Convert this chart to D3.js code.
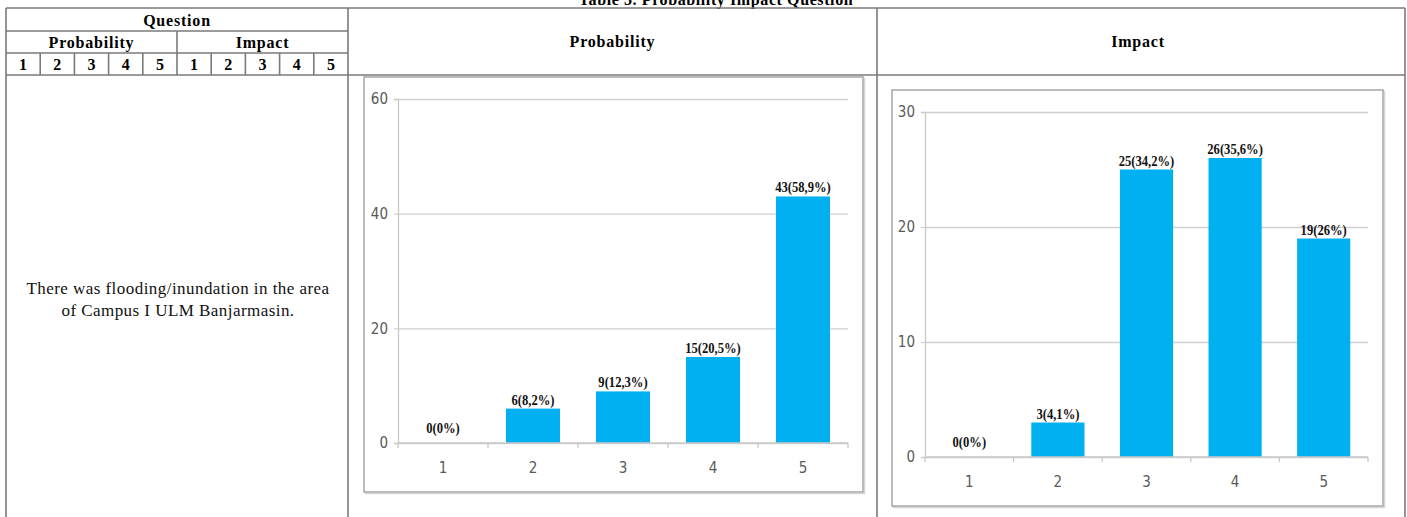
<!DOCTYPE html>
<html>
<head>
<meta charset="utf-8">
<script src="https://d3js.org/d3.v7.min.js"></script>
<style>
    body { margin: 0; background: #fff; }
    .hdr { font-family: "Liberation Serif", "Times New Roman", serif; font-weight: bold; font-size: 16px; fill: #000; }
    .body-text { font-family: "Liberation Serif", "Times New Roman", serif; font-size: 17px; fill: #111; }
    .tick text { font-family: "DejaVu Sans Condensed", "Liberation Sans Narrow", sans-serif; font-size: 15px; fill: #595959; }
    .val { font-family: "Liberation Serif", "Times New Roman", serif; font-weight: bold; font-size: 15px; fill: #111; }
</style>
</head>
<body>
<script>
// data
var categories = ["1", "2", "3", "4", "5"];
var probabilityValues = [0, 6, 9, 15, 43];
var probabilityLabels = ["0(0%)", "6(8,2%)", "9(12,3%)", "15(20,5%)", "43(58,9%)"];
var probabilityTicks = [0, 20, 40, 60];
var impactValues = [0, 3, 25, 26, 19];
var impactLabels = ["0(0%)", "3(4,1%)", "25(34,2%)", "26(35,6%)", "19(26%)"];
var impactTicks = [0, 10, 20, 30];
var scaleHeader = ["1", "2", "3", "4", "5"];
var questionText = ["There was flooding/inundation in the area", "of Campus I ULM Banjarmasin."];

var width = 1407, height = 517;
var svg = d3.select("body").append("svg")
    .attr("width", width)
    .attr("height", height);

var lineColor = "#7a7a7a";

function hline(x1, x2, y) {
    svg.append("line").attr("x1", x1).attr("x2", x2).attr("y1", y).attr("y2", y)
        .attr("stroke", lineColor).attr("stroke-width", 1.6);
}
function vline(x, y1, y2) {
    svg.append("line").attr("x1", x).attr("x2", x).attr("y1", y1).attr("y2", y2)
        .attr("stroke", lineColor).attr("stroke-width", 1.6);
}

// table caption (only its lower part shows, as in the page scan)
svg.append("text").attr("class", "hdr")
    .attr("x", 716).attr("y", 5)
    .attr("text-anchor", "middle")
    .style("letter-spacing", "0.6px")
    .text("Table 3. Probability Impact Question");

// table grid
var tLeft = 6, tRight = 1405, tTop = 8, colQ = 348, colP = 877;
var row1 = 31, row2 = 53, row3 = 75;
hline(tLeft, tRight, tTop);
hline(tLeft, colQ, row1);
hline(tLeft, colQ, row2);
hline(tLeft, tRight, row3);
vline(tLeft, tTop, height);
vline(colQ, tTop, height);
vline(colP, tTop, height);
vline(tRight, tTop, height);

var qMid = (tLeft + colQ) / 2;
var subX = d3.scaleBand().domain(d3.range(10)).range([tLeft, colQ]);
vline(subX(5), row1, row3);
d3.range(1, 10).forEach(function (i) { if (i !== 5) vline(subX(i), row2, row3); });

svg.append("text").attr("class", "hdr").attr("x", qMid).attr("y", 26)
    .attr("text-anchor", "middle").style("letter-spacing", "0.8px").text("Question");
svg.append("text").attr("class", "hdr").attr("x", (tLeft + subX(5)) / 2).attr("y", 48)
    .attr("text-anchor", "middle").style("letter-spacing", "0.8px").text("Probability");
svg.append("text").attr("class", "hdr").attr("x", (subX(5) + colQ) / 2).attr("y", 48)
    .attr("text-anchor", "middle").style("letter-spacing", "0.8px").text("Impact");

svg.selectAll("text.num")
    .data(scaleHeader.concat(scaleHeader))
    .enter().append("text")
    .attr("class", "hdr num")
    .attr("x", function (d, i) { return subX(i) + subX.bandwidth() / 2; })
    .attr("y", 70)
    .attr("text-anchor", "middle")
    .text(function (d) { return d; });

svg.append("text").attr("class", "hdr").attr("x", (colQ + colP) / 2).attr("y", 47)
    .attr("text-anchor", "middle").style("letter-spacing", "0.8px").text("Probability");
svg.append("text").attr("class", "hdr").attr("x", (colP + tRight) / 2 - 3).attr("y", 47)
    .attr("text-anchor", "middle").style("letter-spacing", "0.8px").text("Impact");

svg.selectAll("text.q")
    .data(questionText)
    .enter().append("text")
    .attr("class", "body-text q")
    .attr("x", qMid + 1)
    .attr("y", function (d, i) { return 294 + i * 22; })
    .attr("text-anchor", "middle")
    .style("letter-spacing", "0.45px")
    .text(function (d) { return d; });

// bar charts
function drawChart(cfg) {
    var g = svg.append("g");

    g.append("rect")
        .attr("x", cfg.frame[0] + 1.5).attr("y", cfg.frame[1] + 1.5)
        .attr("width", cfg.frame[2]).attr("height", cfg.frame[3])
        .attr("fill", "none").attr("stroke", "#d6d6d6").attr("stroke-width", 1.5);
    g.append("rect")
        .attr("x", cfg.frame[0]).attr("y", cfg.frame[1])
        .attr("width", cfg.frame[2]).attr("height", cfg.frame[3])
        .attr("fill", "#fff").attr("stroke", "#a6a6a6").attr("stroke-width", 1.5);

    var x = d3.scaleBand()
        .domain(categories)
        .range([cfg.left, cfg.right])
        .paddingInner(0.4)
        .paddingOuter(0.2);

    var y = d3.scaleLinear()
        .domain([0, d3.max(cfg.ticks)])
        .range([cfg.bottom, cfg.top]);

    // gridlines
    g.append("g")
        .attr("transform", "translate(" + cfg.left + ",0)")
        .call(d3.axisLeft(y).tickValues(cfg.ticks).tickSize(-(cfg.right - cfg.left)).tickFormat(""))
        .call(function (s) {
            s.select(".domain").remove();
            s.selectAll("line").attr("stroke", "#d0d0d0").attr("stroke-width", 1.3);
        });

    // y axis
    g.append("g")
        .attr("transform", "translate(" + cfg.left + ",0)")
        .call(d3.axisLeft(y).tickValues(cfg.ticks).tickSize(4).tickPadding(6))
        .call(function (s) {
            s.select(".domain").attr("stroke", "#c8c8c8").attr("stroke-width", 1.3);
            s.selectAll(".tick line").attr("stroke", "#c8c8c8");
        });

    // bars
    g.selectAll("rect.bar")
        .data(cfg.values)
        .enter().append("rect")
        .attr("class", "bar")
        .attr("x", function (d, i) { return x(categories[i]); })
        .attr("y", function (d) { return y(d); })
        .attr("width", x.bandwidth())
        .attr("height", function (d) { return cfg.bottom - y(d); })
        .attr("fill", "#00b0f0");

    // x axis
    var boundaries = d3.range(categories.length + 1).map(function (i) { return cfg.left + i * x.step(); });
    g.append("line")
        .attr("x1", cfg.left).attr("x2", cfg.right)
        .attr("y1", cfg.bottom).attr("y2", cfg.bottom)
        .attr("stroke", "#c8c8c8").attr("stroke-width", 1.3);
    g.selectAll("line.xt")
        .data(boundaries)
        .enter().append("line")
        .attr("class", "xt")
        .attr("x1", function (d) { return d; }).attr("x2", function (d) { return d; })
        .attr("y1", cfg.bottom).attr("y2", cfg.bottom + 5)
        .attr("stroke", "#c8c8c8").attr("stroke-width", 1.3);

    g.append("g")
        .attr("transform", "translate(0," + cfg.bottom + ")")
        .call(d3.axisBottom(x).tickSize(0).tickPadding(19))
        .call(function (s) { s.select(".domain").remove(); });

    // value labels (narrowed like the condensed serif of the source)
    g.selectAll("text.val")
        .data(cfg.labels)
        .enter().append("text")
        .attr("class", "val")
        .attr("transform", function (d, i) {
            var lx = x(categories[i]) + x.bandwidth() / 2;
            var ly = y(cfg.values[i]) - (cfg.values[i] === 0 ? 10 : 4);
            return "translate(" + lx + "," + ly + ") scale(0.84,1)";
        })
        .attr("text-anchor", "middle")
        .text(function (d) { return d; });
}

drawChart({
    values: probabilityValues, labels: probabilityLabels, ticks: probabilityTicks,
    frame: [364, 77, 499, 415],
    left: 398, right: 848, top: 99, bottom: 443
});

drawChart({
    values: impactValues, labels: impactLabels, ticks: impactTicks,
    frame: [892, 90, 491, 416],
    left: 925, right: 1368, top: 112, bottom: 457
});
</script>
</body>
</html>
